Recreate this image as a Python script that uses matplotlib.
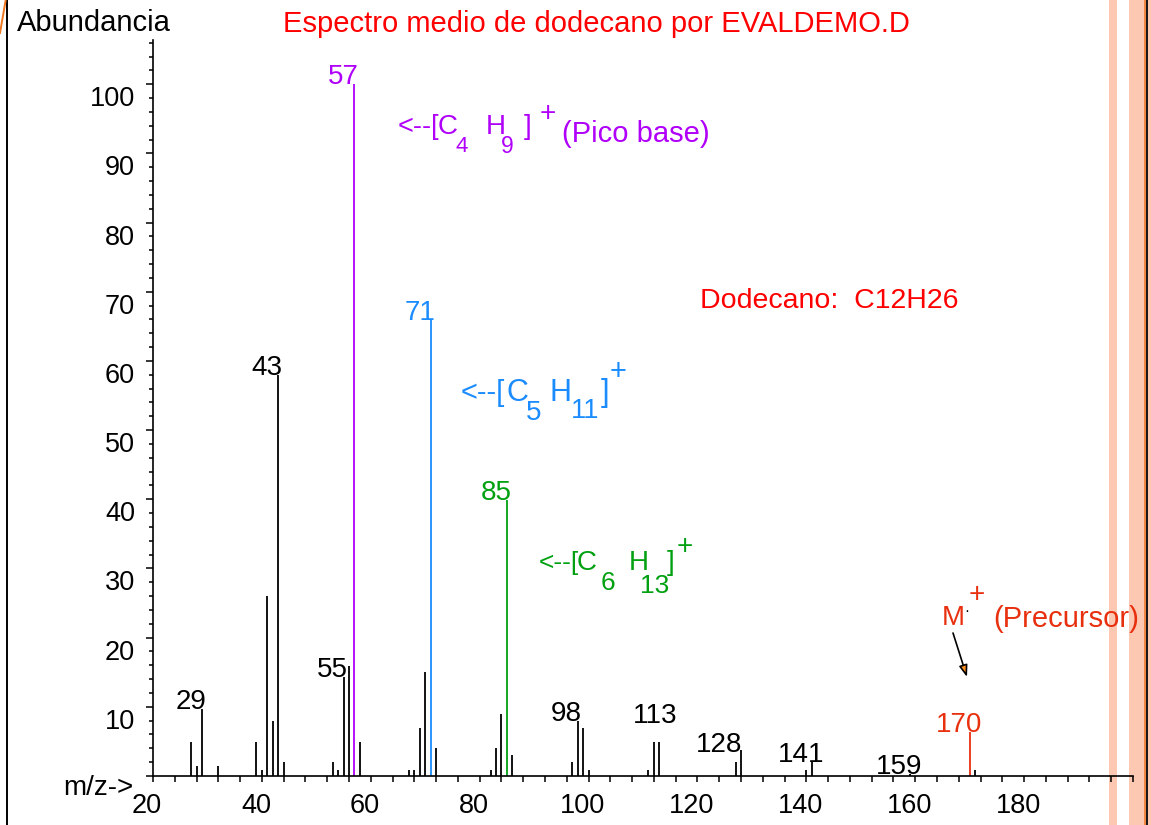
import numpy as np
import matplotlib
matplotlib.use("Agg")
import matplotlib.pyplot as plt
import matplotlib.transforms as mtransforms
from matplotlib.patches import Rectangle
from matplotlib.lines import Line2D
from matplotlib.ticker import MultipleLocator

plt.rcParams['font.family'] = ['Liberation Sans', 'DejaVu Sans']

# espectro medio del dodecano (m/z, abundancia relativa)
mz = [27, 28, 29, 32, 39, 40, 41, 42, 43, 44, 53, 54, 55, 56, 57, 58,
      67, 68, 69, 70, 71, 72, 82, 83, 84, 85, 86, 97, 98, 99, 100,
      111, 112, 113, 127, 128, 140, 141, 159, 170, 171]
abund = [4.9, 1.4, 9.7, 1.4, 4.9, 0.9, 26.0, 7.9, 57.9, 2.0, 2.0, 0.9, 14.3, 15.9, 100.0, 4.9,
         0.9, 0.9, 7.0, 15.0, 65.9, 4.0, 0.9, 4.0, 9.0, 39.9, 3.0, 2.0, 7.9, 6.9, 0.9,
         0.9, 4.9, 4.9, 2.0, 3.8, 0.9, 2.0, 0.3, 6.3, 0.9]
labelled = [29, 43, 55, 57, 71, 85, 98, 113, 128, 141, 159, 170]
xticks = [20, 40, 60, 80, 100, 120, 140, 160, 180]
yticks = [0, 10, 20, 30, 40, 50, 60, 70, 80, 90, 100]

PURPLE = '#B000FA'
BLUE = '#1A8CFF'
GREEN = '#00A010'
RED = '#FF0000'
ORANGE_RED = '#E8300F'
peak_colors = {57: PURPLE, 71: BLUE, 85: GREEN, 170: ORANGE_RED}
# desplazamiento de la etiqueta respecto al pico (pixeles)
label_shift = {113: (-4, 19), 128: (-22, -2)}

W, H = 1151, 825
fig = plt.figure(figsize=(W / 100, H / 100), dpi=100)
ax = fig.add_axes([153 / W, 49 / H, 980 / W, 736 / H])
ax.patch.set_visible(False)

cols = [peak_colors.get(m, 'black') for m in mz]
ax.vlines(mz, 0, abund, colors=cols, lw=1.3)

ax.set_xlim(20, 200)
ax.set_ylim(0, 106.4)
for s in ['top', 'right']:
    ax.spines[s].set_visible(False)
for s in ['left', 'bottom']:
    ax.spines[s].set_linewidth(1.2)

ax.set_xticks(xticks)
ax.set_xticklabels([str(v) for v in xticks])
ax.xaxis.set_minor_locator(MultipleLocator(4))
ax.set_yticks(yticks)
ax.set_yticklabels([''] + [str(v) for v in yticks[1:]])
ax.yaxis.set_minor_locator(MultipleLocator(2))
ax.tick_params(axis='x', which='both', direction='out', length=4.5, width=1.1,
               labelsize=19.5, pad=8)
ax.tick_params(axis='y', which='major', direction='out', length=5, width=1.1,
               labelsize=19.5, pad=8)
ax.tick_params(axis='y', which='minor', direction='out', length=3, width=1.1)

for lbl in ax.get_yticklabels():
    lbl.set_transform(lbl.get_transform() +
                      mtransforms.ScaledTranslation(0, -0.12, fig.dpi_scale_trans))
for lbl in ax.get_xticklabels():
    lbl.set_transform(lbl.get_transform() +
                      mtransforms.ScaledTranslation(-0.06, 0, fig.dpi_scale_trans))

# etiquetas de los picos
for m in labelled:
    a = abund[mz.index(m)]
    dx, dy = label_shift.get(m, (-11, 0))
    ax.annotate(str(m), xy=(m, a), xytext=(dx, dy), textcoords='offset pixels',
                ha='center', va='baseline', fontsize=20,
                color=peak_colors.get(m, 'black'))


def ftext(x, y, s, **kw):
    kw.setdefault('va', 'baseline')
    return fig.text(x / W, 1 - y / H, s, **kw)


def formula(x0, y0, parts, color):
    for dx, dy, s, size in parts:
        va = 'center' if s == '+' else 'baseline'
        ftext(x0 + dx, y0 - dy, s, fontsize=size, color=color, va=va)


ftext(17, 31, 'Abundancia', fontsize=21)
ftext(596, 32, 'Espectro medio de dodecano por EVALDEMO.D', fontsize=21,
      color=RED, ha='center')
ftext(63, 795, 'm/z->', fontsize=20)
ftext(700, 308, 'Dodecano:  C12H26', fontsize=20.5, color=RED)

formula(398, 134, [(0, 0, '<--[', 19.5), (40, 0, 'C', 20), (57, -18, '4', 16),
                   (88, 0, 'H', 20), (103, -19, '9', 16.5), (126, 0, ']', 20),
                   (142, 20, '+', 20), (164, -8, '(Pico base)', 21)], PURPLE)
formula(461, 401, [(0, 0, '<--[', 21), (45, 0, 'C', 22), (65, -19, '5', 20),
                   (88, 0, 'H', 22), (110, -17, '11', 19.5), (140, 0, ']', 22),
                   (149, 29, '+', 21)], BLUE)
formula(539, 570, [(0, 0, '<--[', 19), (38, 0, 'C', 20), (62, -20, '6', 19),
                   (90, 0, 'H', 20), (101, -23, '13', 19), (128, 0, ']', 20),
                   (138, 23, '+', 20)], GREEN)

# ion molecular
ftext(942, 625, 'M', fontsize=20, color=ORANGE_RED)
ftext(967, 611, '·', fontsize=11, color='black', ha='center', va='center')
ftext(977, 595, '+', fontsize=20, color=ORANGE_RED, ha='center', va='center')
ftext(993, 627, '(Precursor)', fontsize=21, color=ORANGE_RED)
fig.add_artist(matplotlib.text.Annotation(
    '', xy=(967, H - 677), xycoords='figure pixels',
    xytext=(953, H - 633), textcoords='figure pixels',
    arrowprops=dict(arrowstyle='-|>,head_length=0.7,head_width=0.25',
                    ec='black', fc='#FF9020', lw=1.2, shrinkA=0, shrinkB=0)))

# marco de la diapositiva
peach = '#FDC8B2'
for x0, w in [(1109, 8), (1129, 15), (1148.3, 3)]:
    fig.add_artist(Rectangle((x0 / W, 0), w / W, 1, transform=fig.transFigure,
                             fc=peach, ec='none', zorder=-2))
fig.add_artist(Line2D([1145 / W, 1145 / W], [0, 1], transform=fig.transFigure,
                      color='#F07020', lw=1.2))
fig.add_artist(Line2D([1147.2 / W, 1147.2 / W], [0, 1], transform=fig.transFigure,
                      color='black', lw=1.3))
fig.add_artist(Line2D([7 / W, 7 / W], [0, 1], transform=fig.transFigure,
                      color='black', lw=1.4))
fig.add_artist(Line2D([0, 5.7 / W], [1 - 33 / H, 1], transform=fig.transFigure,
                      color='#F07820', lw=1.4))

fig.savefig('out.png', dpi=100)
